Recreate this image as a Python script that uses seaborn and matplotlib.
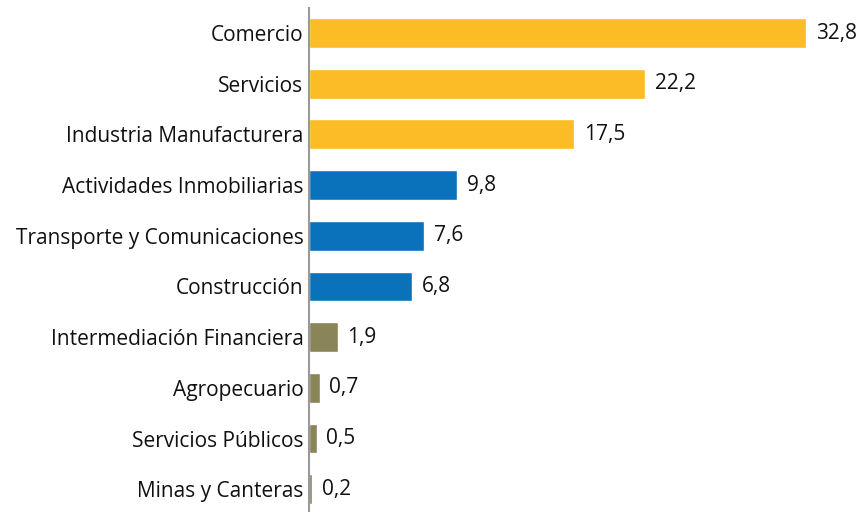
import matplotlib
matplotlib.use("Agg")
import matplotlib.pyplot as plt
import pandas as pd
import seaborn as sns

sectors = ["Comercio", "Servicios", "Industria Manufacturera",
           "Actividades Inmobiliarias", "Transporte y Comunicaciones",
           "Construcción", "Intermediación Financiera", "Agropecuario",
           "Servicios Públicos", "Minas y Canteras"]
shares = [32.8, 22.2, 17.5, 9.8, 7.6, 6.8, 1.9, 0.7, 0.5, 0.2]
groups = ["alto"] * 3 + ["medio"] * 3 + ["bajo"] * 4
group_colors = {"alto": "#FBBC26", "medio": "#0A72BA", "bajo": "#8A8459"}

df = pd.DataFrame({"sector": sectors, "share": shares, "group": groups})

sns.set_style("white")
plt.rcParams["font.family"] = ["Open Sans", "DejaVu Sans"]

fig = plt.figure(figsize=(8.63, 5.12), dpi=100)
ax = fig.add_axes([0.358, -0.005, 0.642, 0.99])
sns.barplot(data=df, y="sector", x="share", hue="group", palette=group_colors,
            saturation=1, dodge=False, legend=False, width=0.59, ax=ax,
            orient="h")

for bar_group in ax.containers:
    labels = [f"{v:.1f}".replace(".", ",") for v in bar_group.datavalues]
    ax.bar_label(bar_group, labels=labels, padding=7, fontsize=15,
                 color="#111111")

ax.set_xlim(0, 36.57)
ax.set_ylim(9.5, -0.5)
ax.set_xlabel("")
ax.set_ylabel("")
ax.set_xticks([])
ax.tick_params(axis="y", length=0, pad=4, labelsize=15, labelcolor="#111111")
for side in ["top", "right", "bottom"]:
    ax.spines[side].set_visible(False)
ax.spines["left"].set_color("#999999")
ax.spines["left"].set_linewidth(1.5)

fig.savefig("out.png", dpi=100)
